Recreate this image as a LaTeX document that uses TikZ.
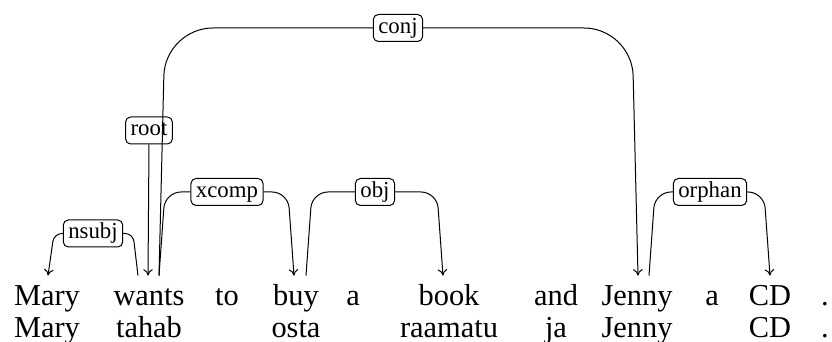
\documentclass[tikz,border=0pt]{standalone}
\usepackage{fontspec}
\setmainfont{Liberation Serif}
\usetikzlibrary{arrows.meta,calc}
\tikzset{
  dep word/.style={
    anchor=base,
    font=\fontsize{15.2}{18}\selectfont,
    text height=10.5pt, text depth=3.5pt,
    inner xsep=0pt, inner ysep=4.5pt
  },
  dep label/.style={
    draw, fill=white, line width=.5pt,
    rounded corners=2.5pt,
    font=\fontsize{11.4}{13}\selectfont,
    text height=8pt, text depth=2.5pt,
    inner xsep=2.5pt, inner ysep=1.5pt
  },
  dep edge/.style={draw, line width=.5pt},
  dep arrow/.style={dep edge, -{To[length=3.2pt,width=4.8pt]}}
}
\begin{document}
\begin{tikzpicture}[x=.5pt,y=.5pt]
  \useasboundingbox (0,0) rectangle (832,342);

  % sentence
  \node[dep word] (w-mary)  at (47,36)  {Mary};
  \node[dep word] (w-wants) at (149,36) {wants};
  \node[dep word] (w-to)    at (227,36) {to};
  \node[dep word] (w-buy)   at (296,36) {buy};
  \node[dep word] (w-a)     at (353,36) {a};
  \node[dep word] (w-book)  at (449,36) {book};
  \node[dep word] (w-and)   at (556,36) {and};
  \node[dep word] (w-jenny) at (637,36) {Jenny};
  \node[dep word] (w-a2)    at (712,36) {a};
  \node[dep word] (w-cd)    at (770,36) {CD};
  \node[dep word] (w-dot)   at (825,36) {.};

  % gloss row
  \node[dep word] (g-mary)    at (47,4)  {Mary};
  \node[dep word] (g-tahab)   at (149,4) {tahab};
  \node[dep word] (g-osta)    at (296,4) {osta};
  \node[dep word] (g-raamatu) at (449,4) {raamatu};
  \node[dep word] (g-ja)      at (556,4) {ja};
  \node[dep word] (g-jenny)   at (637,4) {Jenny};
  \node[dep word] (g-cd)      at (770,4) {CD};
  \node[dep word] (g-dot)     at (825,4) {.};

  % relation labels
  \node[dep label] (l-nsubj)  at (93,108.5)  {nsubj};
  \node[dep label] (l-root)   at (149,211.5) {root};
  \node[dep label] (l-xcomp)  at (227,150)   {xcomp};
  \node[dep label] (l-obj)    at (375,150)   {obj};
  \node[dep label] (l-conj)   at (398,314)   {conj};
  \node[dep label] (l-orphan) at (710,150)   {orphan};

  % nsubj: wants -> Mary
  \draw[dep edge, rounded corners=4pt] ($(w-wants.north)+(-11,0)$)
    -- ($(w-wants.north |- l-nsubj)+(-16,0)$) -- (l-nsubj.east);
  \draw[dep arrow, rounded corners=4pt] (l-nsubj.west)
    -- ($(w-mary.north |- l-nsubj)+(7,0)$) -- ($(w-mary.north)+(1,0)$);

  % root
  \draw[dep arrow] (l-root.south) -- ($(w-wants.north)+(-1,0)$);

  % xcomp: wants -> buy
  \draw[dep edge, rounded corners=8pt] ($(w-wants.north)+(10,0)$)
    -- ($(w-wants.north |- l-xcomp)+(16,0)$) -- (l-xcomp.west);
  \draw[dep arrow, rounded corners=8pt] (l-xcomp.east)
    -- ($(w-buy.north |- l-xcomp)+(-8,0)$) -- ($(w-buy.north)+(-2,0)$);

  % obj: buy -> book
  \draw[dep edge, rounded corners=8pt] ($(w-buy.north)+(10,0)$)
    -- ($(w-buy.north |- l-obj)+(16,0)$) -- (l-obj.west);
  \draw[dep arrow, rounded corners=8pt] (l-obj.east)
    -- ($(w-book.north |- l-obj)+(-12,0)$) -- ($(w-book.north)+(-6,0)$);

  % conj: wants -> Jenny
  \draw[dep edge, rounded corners=24pt] ($(w-wants.north)+(10,0)$)
    -- ($(w-wants.north |- l-conj)+(16,0)$) -- (l-conj.west);
  \draw[dep arrow, rounded corners=24pt] (l-conj.east)
    -- ($(w-jenny.north |- l-conj)+(-5,0)$) -- ($(w-jenny.north)+(1,0)$);

  % orphan: Jenny -> CD
  \draw[dep edge, rounded corners=8pt] ($(w-jenny.north)+(12,0)$)
    -- ($(w-jenny.north |- l-orphan)+(18,0)$) -- (l-orphan.west);
  \draw[dep arrow, rounded corners=8pt] (l-orphan.east)
    -- ($(w-cd.north |- l-orphan)+(-6,0)$) -- (w-cd.north);
\end{tikzpicture}
\end{document}
